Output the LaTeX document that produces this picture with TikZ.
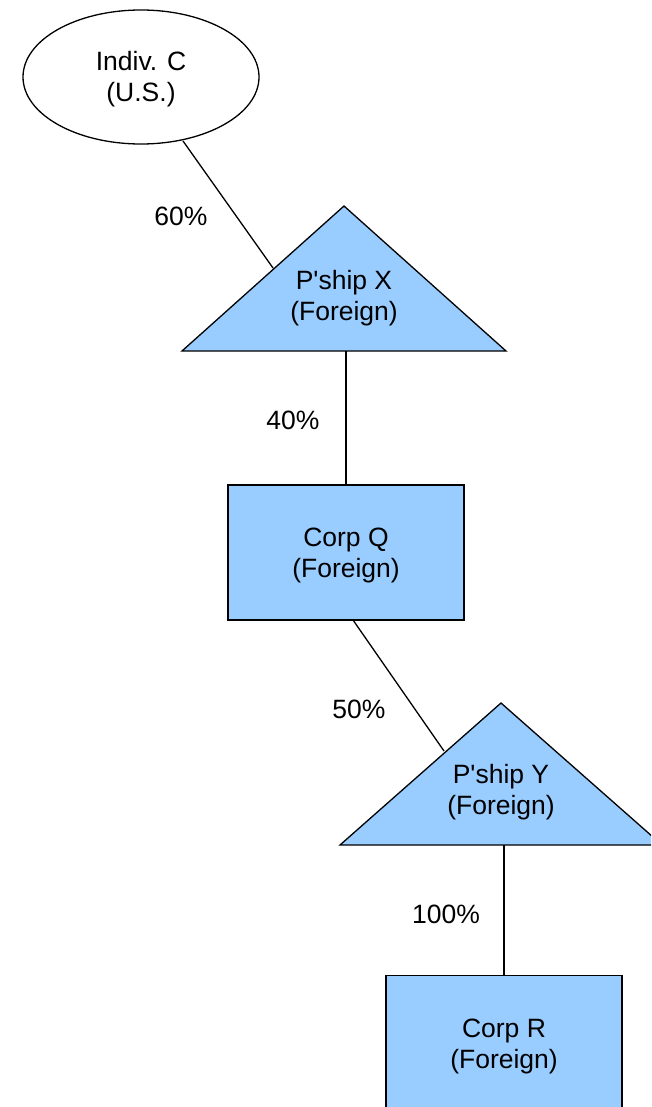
\documentclass[tikz,border=0pt]{standalone}
\usepackage{fontspec}
\setmainfont{Liberation Sans}
\usetikzlibrary{shapes.geometric}
\begin{document}
\begin{tikzpicture}[x=1pt,y=-1pt,
  ent/.style={draw=black,line width=1.3pt,fill=boxblue},
  lbl/.style={font=\fontsize{26.5}{31}\selectfont,align=center,inner sep=0pt},
  pct/.style={font=\fontsize{26.5}{31}\selectfont,inner sep=0pt},
  link/.style={draw=black,line width=1.3pt}]
\definecolor{boxblue}{HTML}{99CCFF}
\useasboundingbox (0,0) rectangle (651,1107);
\clip (0,0) rectangle (651,1107);
% Indiv C
\node[draw=black,line width=1.3pt,fill=white,ellipse,minimum width=236pt,minimum height=134pt,inner sep=0pt] (C) at (141,77) {};
\node[lbl] (Ct) at (141,79) {Indiv. C\\(U.S.)};
% P'ship X
\coordinate (Xa) at (344,206);
\coordinate (Xl) at (182,351);
\coordinate (Xr) at (506,351);
\path[ent] (Xa) -- (Xl) -- (Xr) -- cycle;
\node[lbl] (Xt) at (344,298) {P\textquotesingle ship X\\(Foreign)};
% Corp Q
\node[ent,minimum width=236pt,minimum height=135pt,inner sep=0pt] (Q) at (346,552.5) {};
\node[lbl] (Qt) at (346,555) {Corp Q\\(Foreign)};
% P'ship Y
\coordinate (Ya) at (501,703);
\coordinate (Yl) at (340,845);
\coordinate (Yr) at (662,845);
\path[ent] (Ya) -- (Yl) -- (Yr) -- cycle;
\node[lbl] (Yt) at (501,792) {P\textquotesingle ship Y\\(Foreign)};
% Corp R
\node[ent,minimum width=236pt,minimum height=135pt,inner sep=0pt,anchor=north] (R) at (504,975) {};
\node[lbl] (Rt) at (504,1046) {Corp R\\(Foreign)};
% connectors
\coordinate (c1) at (183,141);
\coordinate (c2) at (273,268);
\draw[link] (c1) -- (c2);
\coordinate (x1) at (346,351);
\draw[link] (x1) -- (Q.north);
\coordinate (q1) at (353,620);
\coordinate (y0) at (444,751);
\draw[link] (q1) -- (y0);
\coordinate (y1) at (504,845);
\draw[link] (y1) -- (R.north);
% percentages
\node[pct] (p60) at (181,216) {60\%};
\node[pct] (p40) at (293,420) {40\%};
\node[pct] (p50) at (359,709) {50\%};
\node[pct] (p100) at (446,914) {100\%};
\end{tikzpicture}
\end{document}
